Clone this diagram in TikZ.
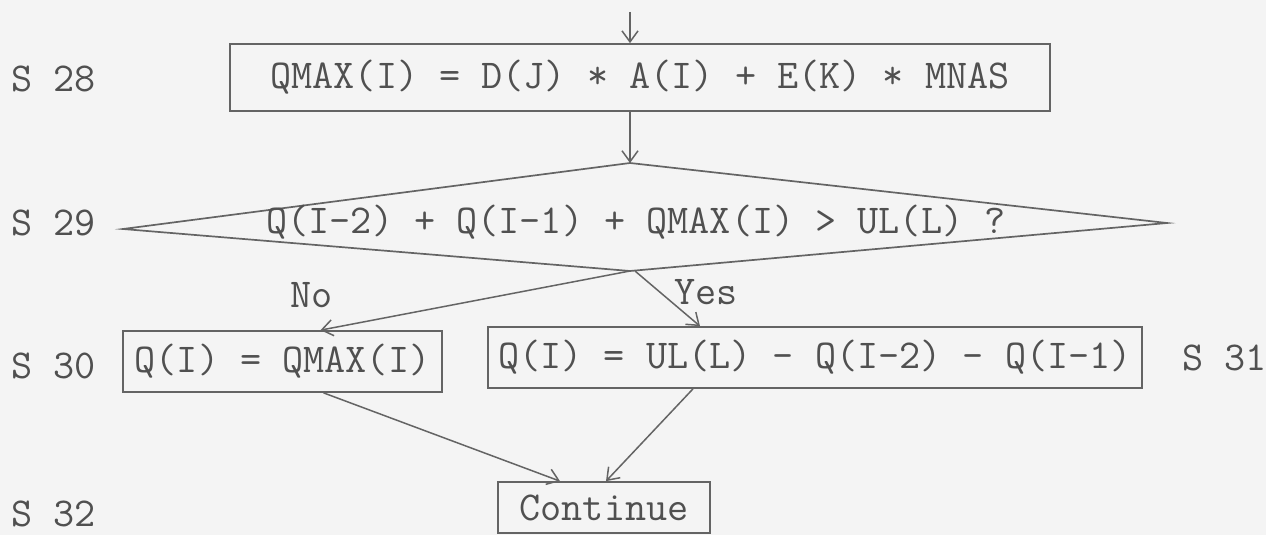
\documentclass[tikz,border=0pt]{standalone}
\usepackage{fontspec}
\usetikzlibrary{arrows.meta}
\definecolor{bg}{HTML}{F4F4F4}
\definecolor{ink}{HTML}{505050}
\definecolor{ln}{HTML}{646464}
\tikzset{
  box/.style={draw=ln, line width=1.7pt, rectangle, inner sep=0pt, text=ink, font=\ttfamily\fontsize{41}{45}\selectfont},
  lbl/.style={anchor=west, inner sep=0pt, text=ink, font=\ttfamily\fontsize{41}{45}\selectfont},
  conn/.style={draw=ln, line width=1.5pt, -{Straight Barb[length=11pt,width=16pt,line width=1.5pt]}},
}
\begin{document}
\begin{tikzpicture}[x=1pt,y=-1pt]
\fill[bg] (0,0) rectangle (1266,535);
\useasboundingbox (0,0) rectangle (1266,535);

% boxes
\node[box, minimum width=820pt, minimum height=67pt] (s28) at (640,77.5) {QMAX(I) = D(J) * A(I) + E(K) * MNAS};
\node[box, minimum width=319pt, minimum height=61pt] (s30) at (282.5,361.5) {Q(I) = QMAX(I)};
\node[box, minimum width=654pt, minimum height=61pt] (s31) at (815,357.5) {Q(I) = UL(L) - Q(I-2) - Q(I-1)};
\node[box, minimum width=212pt, minimum height=51pt] (cont) at (604,507.5) {Continue};

% decision
\coordinate (dtop) at (630,163);
\coordinate (dleft) at (123,229);
\coordinate (dright) at (1167,223);
\coordinate (dbot) at (630,271);
\draw[ln, line width=1.7pt, line join=miter] (dtop) -- (dright) -- (dbot) -- (dleft) -- cycle;
\node[lbl, anchor=center] (s29text) at (636,222) {Q(I-2) + Q(I-1) + QMAX(I) > UL(L) ?};

% step labels
\node[lbl] (l28) at (11,79) {S 28};
\node[lbl] (l29) at (11,223) {S 29};
\node[lbl] (l30) at (11,366) {S 30};
\node[lbl] (l31) at (1182,358) {S 31};
\node[lbl] (l32) at (11,514) {S 32};
\node[lbl] (no) at (290,295) {No};
\node[lbl] (yes) at (674,292) {Yes};

% connectors
\coordinate (start) at (630,12);
\draw[conn] (start) -- (start |- s28.north);
\draw[conn] (s28.south -| dtop) -- (dtop);
\draw[conn] (dbot) -- ([xshift=38pt]s30.north);
\draw[conn] ([xshift=5pt]dbot) -- ([xshift=-115pt]s31.north);
\draw[conn] ([xshift=41pt]s30.south) -- ([xshift=-44pt]cont.north);
\draw[conn] ([xshift=-122pt]s31.south) -- ([xshift=2pt]cont.north);
\end{tikzpicture}
\end{document}
